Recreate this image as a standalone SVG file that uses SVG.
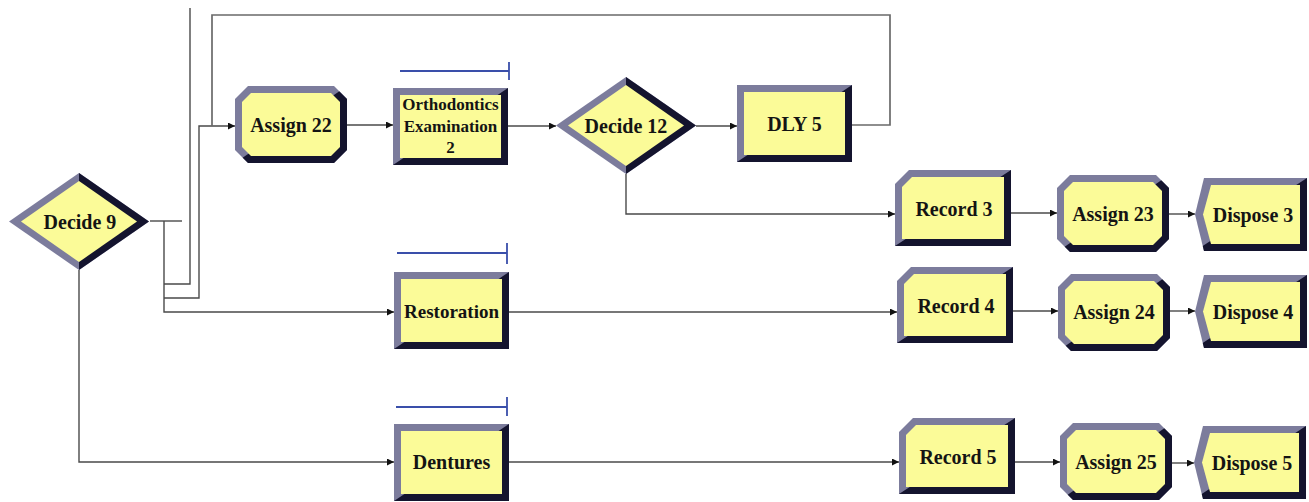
<svg xmlns="http://www.w3.org/2000/svg" xmlns:xlink="http://www.w3.org/1999/xlink" width="1309" height="502" viewBox="0 0 1309 502">
<style>
.lt{fill:#7c7c9c}
.dk{fill:#14142e}
.in{fill:#fbfb98}
.lbl{font-family:"Liberation Serif","Times New Roman",serif;font-weight:bold;font-size:20px;fill:#141414;text-anchor:middle}
.sm{font-size:19px}
.lbl2{font-family:"Liberation Serif","Times New Roman",serif;font-weight:bold;font-size:17px;fill:#141414;text-anchor:middle}
.cn{fill:none;stroke:#4a4a4a;stroke-width:1.4}
.loop{fill:none;stroke:#6a6a6a;stroke-width:1.7}
.bl{fill:none;stroke:#3a4faa;stroke-width:1.8}
</style>
<defs>
<clipPath id="br" clipPathUnits="objectBoundingBox"><polygon points="1,0 1,1 0,1"/></clipPath>
<clipPath id="rh" clipPathUnits="objectBoundingBox"><rect x="0.5" y="0" width="0.5" height="1"/></clipPath>
<marker id="ar" viewBox="0 0 10 10" refX="10" refY="5" markerWidth="9" markerHeight="7" markerUnits="userSpaceOnUse" orient="auto"><path d="M0,0 L10,5 L0,10 z" fill="#111"/></marker>
<g id="s-assign">
<polygon class="lt" points="13,0 99,0 112,13 112,64 99,77 13,77 0,64 0,13"/>
<polygon class="dk" clip-path="url(#br)" points="13,0 99,0 112,13 112,64 99,77 13,77 0,64 0,13"/>
<polygon class="in" points="16,7 96,7 105,16 105,61 96,70 16,70 7,61 7,16"/>
</g>
<g id="s-record">
<polygon class="lt" points="14,0 116,0 116,76 0,76 0,14"/>
<polygon class="dk" clip-path="url(#br)" points="14,0 116,0 116,76 0,76 0,14"/>
<polygon class="in" points="17,7 109,7 109,69 7,69 7,17"/>
</g>
<g id="s-dispose">
<polygon class="lt" points="9,0 112,0 112,73 9,73 0,36.5"/>
<polygon class="dk" clip-path="url(#br)" points="9,0 112,0 112,73 9,73 0,36.5"/>
<polygon class="in" points="16,7 105,7 105,66 16,66 8,36.5"/>
</g>
<g id="s-process">
<rect class="lt" x="0" y="0" width="115" height="77"/>
<rect class="dk" clip-path="url(#br)" x="0" y="0" width="115" height="77"/>
<rect class="in" x="7" y="7" width="101" height="63"/>
</g>
<g id="s-decide">
<polygon class="lt" points="0,48.5 70,0 140,48.5 70,97"/>
<polygon class="dk" clip-path="url(#rh)" points="0,48.5 70,0 140,48.5 70,97"/>
<polygon class="in" points="12,48.5 70,8 128,48.5 70,89"/>
</g>
</defs>
<rect width="1309" height="502" fill="#ffffff"/>

<g id="connectors">
<path class="cn" d="M150,221 H182"/>
<path class="cn" d="M164,221 V312 H394" marker-end="url(#ar)"/>
<path class="cn" d="M164,284 H190 V8"/>
<path class="cn" d="M164,298 H199 V126 H235" marker-end="url(#ar)"/>
<path class="loop" d="M852,125 H890 V15 H212 V126"/>
<path class="cn" d="M79,270 V462 H394" marker-end="url(#ar)"/>
<path class="cn" d="M347,125 H393" marker-end="url(#ar)"/>
<path class="cn" d="M508,126 H556" marker-end="url(#ar)"/>
<path class="cn" d="M696,126 H737" marker-end="url(#ar)"/>
<path class="cn" d="M626,174 V214 H895" marker-end="url(#ar)"/>
<path class="cn" d="M1011,213 H1057" marker-end="url(#ar)"/>
<path class="cn" d="M1169,214 H1195" marker-end="url(#ar)"/>
<path class="cn" d="M509,312 H897" marker-end="url(#ar)"/>
<path class="cn" d="M1013,311 H1058" marker-end="url(#ar)"/>
<path class="cn" d="M1170,311 H1195" marker-end="url(#ar)"/>
<path class="cn" d="M509,462 H899" marker-end="url(#ar)"/>
<path class="cn" d="M1015,462 H1060" marker-end="url(#ar)"/>
<path class="cn" d="M1172,463 H1194" marker-end="url(#ar)"/>
</g>

<g id="resource-bars">
<path class="bl" d="M400,71 H509 M509,62 V80"/>
<path class="bl" d="M397,253 H507 M507,243 V264"/>
<path class="bl" d="M396,407 H507 M507,397 V416"/>
</g>

<g id="decide9"><use xlink:href="#s-decide" href="#s-decide" x="9" y="173"/><text class="lbl" x="80" y="228.5">Decide 9</text></g>
<g id="assign22"><use xlink:href="#s-assign" href="#s-assign" x="235" y="86"/><text class="lbl" x="291" y="131.5">Assign 22</text></g>
<g id="orthodontics"><use xlink:href="#s-process" href="#s-process" x="393" y="88"/>
<text class="lbl2" x="450.5" y="110">Orthodontics</text>
<text class="lbl2" x="450.5" y="131.5">Examination</text>
<text class="lbl2" x="450.5" y="153">2</text></g>
<g id="decide12"><use xlink:href="#s-decide" href="#s-decide" x="556" y="77"/><text class="lbl" x="626" y="132.5">Decide 12</text></g>
<g id="dly5"><use xlink:href="#s-process" href="#s-process" x="737" y="85"/><text class="lbl" x="794.5" y="130.5">DLY 5</text></g>
<g id="record3"><use xlink:href="#s-record" href="#s-record" x="895" y="170"/><text class="lbl" x="954" y="215.5">Record 3</text></g>
<g id="assign23"><use xlink:href="#s-assign" href="#s-assign" x="1057" y="175"/><text class="lbl" x="1113" y="220.5">Assign 23</text></g>
<g id="dispose3"><use xlink:href="#s-dispose" href="#s-dispose" x="1195" y="178"/><text class="lbl" x="1253" y="221.5">Dispose 3</text></g>
<g id="restoration"><use xlink:href="#s-process" href="#s-process" x="394" y="272"/><text class="lbl sm" x="451.5" y="317.5">Restoration</text></g>
<g id="record4"><use xlink:href="#s-record" href="#s-record" x="897" y="267"/><text class="lbl" x="956" y="312.5">Record 4</text></g>
<g id="assign24"><use xlink:href="#s-assign" href="#s-assign" x="1058" y="274"/><text class="lbl" x="1114" y="318.5">Assign 24</text></g>
<g id="dispose4"><use xlink:href="#s-dispose" href="#s-dispose" x="1195" y="275"/><text class="lbl" x="1253" y="318.5">Dispose 4</text></g>
<g id="dentures"><use xlink:href="#s-process" href="#s-process" x="394" y="424"/><text class="lbl" x="451.5" y="469">Dentures</text></g>
<g id="record5"><use xlink:href="#s-record" href="#s-record" x="899" y="418"/><text class="lbl" x="958" y="463.5">Record 5</text></g>
<g id="assign25"><use xlink:href="#s-assign" href="#s-assign" x="1060" y="423"/><text class="lbl" x="1116" y="468.5">Assign 25</text></g>
<g id="dispose5"><use xlink:href="#s-dispose" href="#s-dispose" x="1194" y="426"/><text class="lbl" x="1252" y="469.5">Dispose 5</text></g>
</svg>
